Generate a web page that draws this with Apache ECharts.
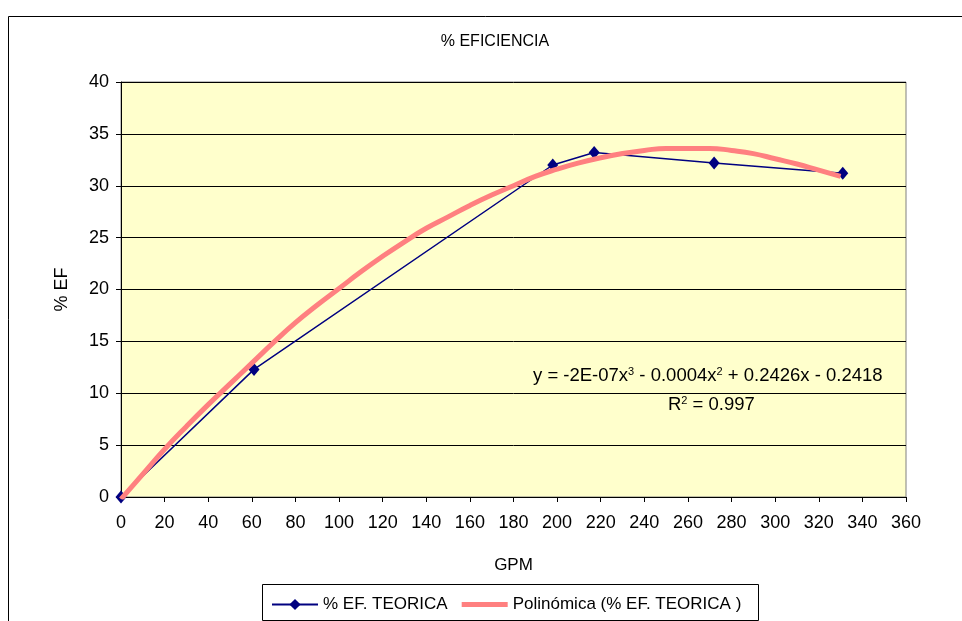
<!DOCTYPE html>
<html>
<head>
<meta charset="utf-8">
<script src="https://cdn.jsdelivr.net/npm/echarts@6/dist/echarts.min.js"></script>
<style>
  html, body { margin: 0; padding: 0; background: #fff; }
  #chart { width: 962px; height: 621px; }
</style>
</head>
<body>
<div id="chart"></div>
<script>
// Measured efficiency points (GPM, % EF)
const gpm = [0, 61, 198, 217, 272, 331];
const efTeorica = [0, 12.3, 32.0, 33.2, 32.2, 31.2];

// Polynomial trend line, sampled every 10 GPM
const trendGpm = [0, 10, 20, 30, 40, 50, 60, 70, 80, 90, 100, 110, 120, 130, 140, 150, 160,
                  170, 180, 190, 200, 210, 220, 230, 240, 250, 260, 270, 280, 290, 300, 310, 320, 330];
const trendEf = [-0.2, 2.2, 4.6, 6.8, 8.9, 10.9, 12.9, 14.9, 16.8, 18.5, 20.1, 21.7, 23.2, 24.6, 25.9, 27.0, 28.1,
                 29.1, 30.0, 30.9, 31.6, 32.2, 32.7, 33.1, 33.4, 33.6, 33.6, 33.6, 33.4, 33.1, 32.6, 32.1, 31.5, 30.9];

const xTicks = { min: 0, max: 360, step: 20 };
const yTicks = { min: 0, max: 40, step: 5 };

const seriesNames = ['% EF. TEORICA', 'Polinómica (% EF. TEORICA )'];
const equationText = 'y = -2E-07x{sup|3} - 0.0004x{sup|2} + 0.2426x - 0.2418';
const r2Text = 'R{sup|2} = 0.997';

const font = 'Arial, "Liberation Sans", sans-serif';
const supStyle = { fontSize: 11, verticalAlign: 'top', padding: [0, 0, 8, 0], fontFamily: font };
const chart = echarts.init(document.getElementById('chart'));

chart.setOption({
  backgroundColor: '#ffffff',
  animation: false,
  title: {
    text: '% EFICIENCIA',
    left: 490, top: 29, textAlign: 'center',
    textStyle: { fontFamily: font, fontSize: 16, fontWeight: 'normal', color: '#000' }
  },
  grid: {
    left: 121, right: 56, top: 82, bottom: 124,
    show: true, backgroundColor: '#FFFFCC', borderColor: '#808080', borderWidth: 1
  },
  xAxis: {
    type: 'value', min: xTicks.min, max: xTicks.max, interval: xTicks.step,
    name: 'GPM', nameLocation: 'middle', nameGap: 60,
    nameTextStyle: { fontFamily: font, fontSize: 17, color: '#000' },
    axisLine: { show: true, onZero: false, lineStyle: { color: '#000', width: 1 } },
    axisTick: { show: true, inside: false, length: 5, lineStyle: { color: '#000' } },
    axisLabel: { margin: 17, fontFamily: font, fontSize: 18, color: '#000' },
    splitLine: { show: false }
  },
  yAxis: {
    type: 'value', min: yTicks.min, max: yTicks.max, interval: yTicks.step,
    name: '% EF', nameLocation: 'middle', nameGap: 50, nameRotate: 90,
    nameTextStyle: { fontFamily: font, fontSize: 18, color: '#000' },
    axisLine: { show: true, lineStyle: { color: '#000', width: 1 } },
    axisTick: { show: true, inside: false, length: 5, lineStyle: { color: '#000' } },
    axisLabel: { margin: 12, fontFamily: font, fontSize: 18, color: '#000' },
    splitLine: { show: true, lineStyle: { color: '#000', width: 1 } }
  },
  legend: {
    left: 266, top: 591,
    itemWidth: 46, itemHeight: 14, itemGap: 14,
    textStyle: { fontFamily: font, fontSize: 17, color: '#000' },
    data: [
      { name: seriesNames[0] },
      { name: seriesNames[1], icon: 'path://M0,0 H46 V5 H0 Z' }
    ]
  },
  graphic: [
    { type: 'rect', shape: { x: 8.5, y: 16.5, width: 1000, height: 700 },
      style: { fill: 'none', stroke: '#000', lineWidth: 1 }, silent: true, z: -1 },
    { type: 'rect', shape: { x: 262.5, y: 584.5, width: 496, height: 36 },
      style: { fill: 'none', stroke: '#000', lineWidth: 1 }, silent: true },
    { type: 'text', left: 533, top: 366,
      style: { text: equationText, fontFamily: font, fontSize: 18.5, fill: '#000', rich: { sup: supStyle } } },
    { type: 'text', left: 668, top: 395,
      style: { text: r2Text, fontFamily: font, fontSize: 18.5, fill: '#000', rich: { sup: supStyle } } }
  ],
  series: [
    {
      name: seriesNames[0], type: 'line',
      data: gpm.map((x, i) => [x, efTeorica[i]]),
      symbol: 'diamond', symbolSize: [11, 13], showAllSymbol: true,
      lineStyle: { color: '#000080', width: 1.5 },
      itemStyle: { color: '#000080' },
      z: 3
    },
    {
      name: seriesNames[1], type: 'line',
      data: trendGpm.map((x, i) => [x, trendEf[i]]),
      smooth: true, symbol: 'none',
      lineStyle: { color: '#FF8080', width: 5 },
      itemStyle: { color: '#FF8080' },
      z: 4
    }
  ]
});
</script>
</body>
</html>
